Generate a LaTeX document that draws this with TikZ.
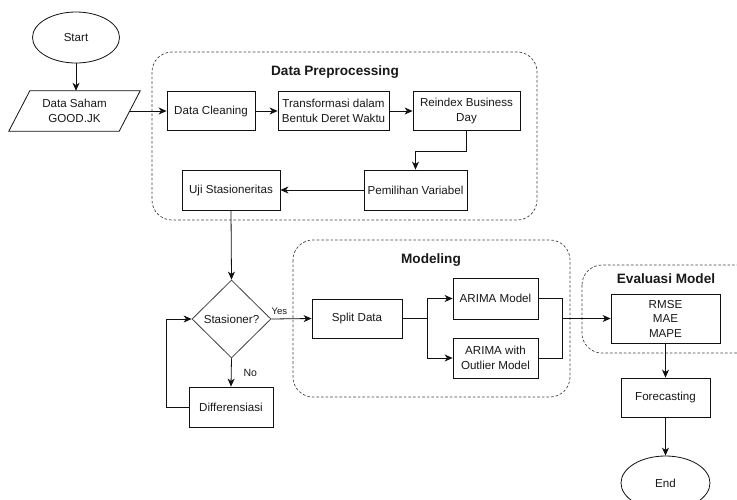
\documentclass[tikz,border=0pt]{standalone}
\usepackage{fontspec}
\setmainfont{Liberation Sans}
\usetikzlibrary{shapes.geometric,arrows.meta}
\definecolor{linec}{HTML}{111111}
\definecolor{grpc}{HTML}{444444}
\begin{document}
\begin{tikzpicture}[x=1pt,y=-1pt,
  every node/.style={font=\fontsize{11.6}{14.5}\selectfont, inner sep=0pt, text=black!90},
  box/.style={draw=linec, line width=0.8pt, rectangle, align=center, minimum height=39pt},
  term/.style={draw=linec, line width=0.8pt, ellipse},
  dec/.style={draw=linec!80, line width=0.8pt, diamond},
  grp/.style={draw=grpc, line width=0.7pt, dash pattern=on 2.6pt off 2pt, rounded corners=20pt},
  ttl/.style={font=\fontsize{13.6}{16}\selectfont\bfseries},
  lbl/.style={font=\fontsize{10}{12}\selectfont},
  arr/.style={draw=linec, line width=0.8pt, -{Stealth[length=8pt,width=7pt,inset=2.4pt]}},
  ln/.style={draw=linec, line width=0.8pt}]
\useasboundingbox (0,0) rectangle (737,499);
\clip (0,0) rectangle (737,499);
\fill[white] (0,0) rectangle (737,499);

% groups
\draw[grp] (152,52) rectangle (537,220);
\draw[grp] (293,240) rectangle (570,397);
\draw[grp] (582,265) rectangle (775,353);
\node[ttl] (tpre) at (335,72) {Data Preprocessing};
\node[ttl] (tmod) at (431,260) {Modeling};
\node[ttl] (teval) at (666,279) {Evaluasi Model};

% nodes
\node[term, minimum width=87pt, minimum height=51pt] (start) at (76,37.5) {Start};
\node[align=center, minimum width=110pt, minimum height=40pt] (data) at (74.5,111) {Data Saham\\GOOD.JK};
\draw[linec, line width=0.8pt] ([xshift=10.5pt]data.north west) -- ([xshift=10.5pt]data.north east)
  -- ([xshift=-10.5pt]data.south east) -- ([xshift=-10.5pt]data.south west) -- cycle;
\node[box, minimum width=88pt] (clean) at (211,111) {Data Cleaning};
\node[box, minimum width=111pt] (trans) at (333.5,111) {Transformasi dalam\\Bentuk Deret Waktu};
\node[box, minimum width=107pt] (reidx) at (466.5,111) {Reindex Business\\Day};
\node[box, minimum width=103pt, minimum height=40pt] (pemil) at (415.5,190) {Pemilihan Variabel};
\node[box, minimum width=98pt, minimum height=40pt] (uji) at (231,190) {Uji Stasioneritas};
\node[dec, minimum width=79pt, minimum height=78pt] (stas) at (231.5,319) {Stasioner?};
\node[box, minimum width=84pt, minimum height=40pt] (diff) at (231,407) {Differensiasi};
\node[box, minimum width=90pt] (split) at (357,318.5) {Split Data};
\node[box, minimum width=85pt, minimum height=41pt] (arima) at (495.5,298.5) {ARIMA Model};
\node[box, minimum width=85pt, minimum height=40pt] (arimao) at (495.5,358) {ARIMA with\\Outlier Model};
\node[box, minimum width=109pt, minimum height=49pt] (eval) at (665.5,318.5) {RMSE\\MAE\\MAPE};
\node[box, minimum width=89pt] (fore) at (665.5,397.5) {Forecasting};
\node[term, minimum width=89pt, minimum height=54pt] (end) at (665.5,483) {End};

\coordinate (sp) at (427,318.5);
\coordinate (jn) at (562,318.5);

% connectors
\draw[arr] (start.south) -- (start.south |- data.north);
\draw[arr] (data.east) -- (clean.west);
\draw[arr] (clean.east) -- (trans.west);
\draw[arr] (trans.east) -- (reidx.west);
\draw[arr] (reidx.south) -- ++(0,20.5) -| (pemil.north);
\draw[arr] (pemil.west) -- (uji.east);
\draw[arr] (uji.south) -- (stas.north);
\draw[arr] (stas.east) -- node[lbl, pos=0.2, above=4pt, font=\fontsize{9.5}{11}\selectfont] (yes) {Yes} (split.west);
\draw[arr] (stas.south) -- node[lbl, right=12pt, font=\fontsize{10.5}{12}\selectfont] (no) {No} (diff.north);
\draw[arr] (diff.west) -- ++(-22,0) |- (stas.west);
\draw[ln] (split.east) -- (sp);
\draw[arr] (sp) |- (arima.west);
\draw[arr] (sp) |- (arimao.west);
\draw[ln] (arima.east) -| (jn);
\draw[ln] (arimao.east) -| (jn);
\draw[arr] (jn) -- (eval.west);
\draw[arr] (eval.south) -- (fore.north);
\draw[arr] (fore.south) -- (end.north);
\end{tikzpicture}
\end{document}
